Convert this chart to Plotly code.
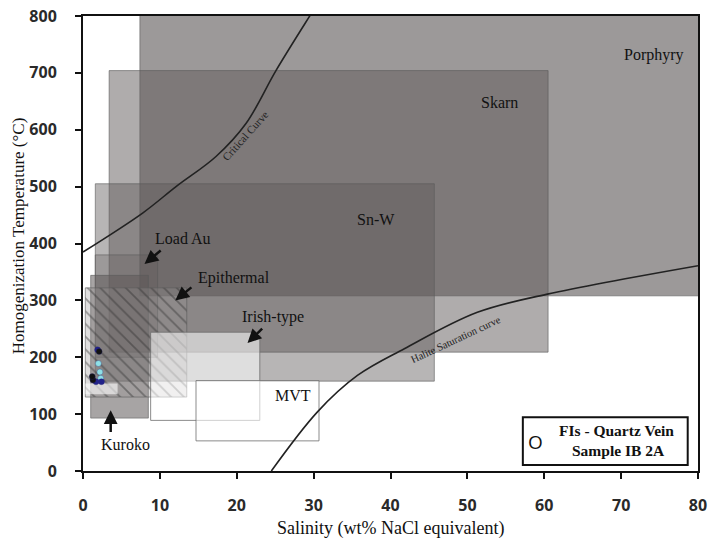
import plotly.graph_objects as go

# ---------------- data ----------------
box_names = ["Porphyry", "Skarn", "Sn-W", "Load Au", "Kuroko", "Epithermal", "Irish-type", "MVT", "inner"]
sal_min = [7.4, 3.4, 1.6, 1.6, 1.0, 0.3, 8.8, 14.7, 0.3]
sal_max = [80.5, 60.5, 45.7, 9.7, 8.5, 13.5, 23.0, 30.7, 4.5]
temp_min = [308, 209, 158, 200, 93, 130, 89, 53, 135]
temp_max = [810, 704, 505, 380, 344, 322, 244, 159, 154]
box_fill = ["rgba(95,90,90,0.62)", "rgba(95,90,90,0.5)", "rgba(95,90,90,0.45)", "rgba(95,90,90,0.3)",
            "rgba(95,90,90,0.55)", "rgba(150,145,145,0.3)", "rgba(255,255,255,0.55)",
            "rgba(255,255,255,0.6)", "rgba(255,255,255,0.6)"]

crit_sal = [0, 7.8, 12.1, 17.3, 21.2, 25.1, 29.4, 30.2]
crit_temp = [385, 454, 500, 553, 611, 704, 798, 815]

halite_sal = [24.5, 30.5, 35.7, 41.8, 51.3, 60.4, 80]
halite_temp = [0, 104, 168, 215, 279, 311, 361]

fi_black_sal = [2.1, 1.3, 1.2]
fi_black_temp = [210, 160, 166]
fi_navy_sal = [1.9, 1.7, 2.4]
fi_navy_temp = [213, 157, 157]
fi_cyan_sal = [2.0, 2.2, 2.3]
fi_cyan_temp = [189, 174, 163]

labels = ["Porphyry", "Skarn", "Sn-W", "Load Au", "Epithermal", "Irish-type", "MVT", "Kuroko"]
label_sal = [74.3, 54.2, 38.1, 13.0, 19.6, 24.7, 27.3, 5.5]
label_temp = [731, 648, 442, 409, 339, 271, 132, 46]

arrow_head_sal = [8.0, 12.0, 21.4, 3.6]
arrow_head_temp = [364, 300, 225, 107]
arrow_tail_sal = [10.3, 14.3, 23.5, 3.6]
arrow_tail_temp = [390, 325, 253, 66]

x_ticks = [0, 10, 20, 30, 40, 50, 60, 70, 80]
y_ticks = [0, 100, 200, 300, 400, 500, 600, 700, 800]

SERIF = "Liberation Serif"
SANS = "Open Sans"

fig = go.Figure()

for i, name in enumerate(box_names):
    xs = [sal_min[i], sal_max[i], sal_max[i], sal_min[i], sal_min[i]]
    ys = [temp_min[i], temp_min[i], temp_max[i], temp_max[i], temp_min[i]]
    kw = {}
    if name == "Epithermal":
        kw["fillpattern"] = dict(shape="\\", size=9, solidity=0.2,
                                 fgcolor="rgba(45,45,45,0.85)", bgcolor=box_fill[i])
    line_col = "rgba(90,90,90,0.6)"
    if name in ("Irish-type", "MVT"):
        line_col = "rgba(110,110,110,0.8)"
    if name == "inner":
        line_col = "rgba(255,255,255,0)"
    fig.add_trace(go.Scatter(x=xs, y=ys, mode="lines", fill="toself",
                             fillcolor=box_fill[i], line=dict(color=line_col, width=1),
                             hoverinfo="skip", showlegend=False, **kw))

fig.add_trace(go.Scatter(x=crit_sal, y=crit_temp, mode="lines", line=dict(color="#222", width=1.6, shape="spline"),
                         showlegend=False))
fig.add_trace(go.Scatter(x=halite_sal, y=halite_temp, mode="lines", line=dict(color="#222", width=1.6, shape="spline"),
                         showlegend=False))

for sx, sy, col in [(fi_cyan_sal, fi_cyan_temp, "#8fe0e6"), (fi_navy_sal, fi_navy_temp, "#22228a"),
                    (fi_black_sal, fi_black_temp, "#111111")]:
    fig.add_trace(go.Scatter(x=sx, y=sy, mode="markers",
                             marker=dict(size=6, color=col, line=dict(color="rgba(40,40,120,0.6)", width=0.5)),
                             showlegend=False))

ann = []
for t, sx, sy in zip(labels, label_sal, label_temp):
    ann.append(dict(x=sx, y=sy, xref="x", yref="y", text=t, showarrow=False,
                    font=dict(family=SERIF, size=16, color="#111")))
for hx, hy, tx, ty in zip(arrow_head_sal, arrow_head_temp, arrow_tail_sal, arrow_tail_temp):
    ann.append(dict(x=hx, y=hy, ax=tx, ay=ty, xref="x", yref="y", axref="x", ayref="y",
                    text="", showarrow=True, arrowhead=2, arrowsize=1.1, arrowwidth=2.5, arrowcolor="#111"))

ann.append(dict(x=21.2, y=590, xref="x", yref="y", text="Critical Curve", showarrow=False, textangle=-48,
                font=dict(family=SERIF, size=11, color="#222")))
ann.append(dict(x=48.5, y=231, xref="x", yref="y", text="Halite Saturation curve", showarrow=False, textangle=-25,
                font=dict(family=SERIF, size=10.5, color="#222")))

W, H = 709, 539
PL, PR, PT, PB = 82.5, 698, 15.5, 471       # plot area in page pixels
L, R, T, B = PL, W - PR, PT, H - PB
pw, ph = W - L - R, H - T - B


def px(xp):
    return (xp - L) / pw


def py(yp):
    return (H - B - yp) / ph


# legend box contents and axis titles (page pixel positions)
pix_ann = [
    dict(x=535, y=441.7, text="O", font=dict(family=SANS, size=19, color="#111")),
    dict(x=616.5, y=430.5, text="<b>FIs - Quartz Vein</b>", font=dict(family=SERIF, size=15.5, color="#111")),
    dict(x=618.5, y=450.5, text="<b>Sample IB 2A</b>", font=dict(family=SERIF, size=15.5, color="#111")),
    dict(x=17.5, y=236, text="Homogenization Temperature (°C)", textangle=-90,
         font=dict(family=SERIF, size=17, color="#111")),
    dict(x=390, y=529, text="Salinity (wt% NaCl equivalent)", font=dict(family=SERIF, size=18, color="#111")),
]
for a in pix_ann:
    a.update(x=px(a["x"]), y=py(a["y"]), xref="paper", yref="paper", showarrow=False,
             xanchor="center", yanchor="middle")
    ann.append(a)

shapes = [dict(type="rect", xref="paper", yref="paper", x0=px(522.7), x1=px(687.7), y0=py(465), y1=py(417.3),
               line=dict(color="#111", width=2), fillcolor="white", layer="above")]

fig.update_layout(
    width=W, height=H, margin=dict(l=L, r=R, t=T, b=B, autoexpand=False),
    plot_bgcolor="white", paper_bgcolor="white", showlegend=False,
    annotations=ann, shapes=shapes,
    xaxis=dict(range=[0, 80], tickvals=x_ticks, ticks="outside", ticklen=6, tickwidth=1.5, tickcolor="#111",
               showgrid=False, zeroline=False, showline=True, linewidth=2, linecolor="#111", mirror=True,
               automargin=False, ticklabeloverflow="allow",
               ticklabelstandoff=13, tickfont=dict(family=SANS, size=16, color="#2a2a2a", weight="bold")),
    yaxis=dict(range=[0, 800], tickvals=y_ticks, ticks="outside", ticklen=6, tickwidth=1.5, tickcolor="#111",
               showgrid=False, zeroline=False, showline=True, linewidth=2, linecolor="#111", mirror=True,
               automargin=False, ticklabeloverflow="allow",
               ticklabelstandoff=15, tickfont=dict(family=SANS, size=16, color="#2a2a2a", weight="bold")),
)

fig.write_html("out.html", config={"displayModeBar": False},
               post_script="document.body.style.margin='0';document.body.style.overflow='hidden';")
